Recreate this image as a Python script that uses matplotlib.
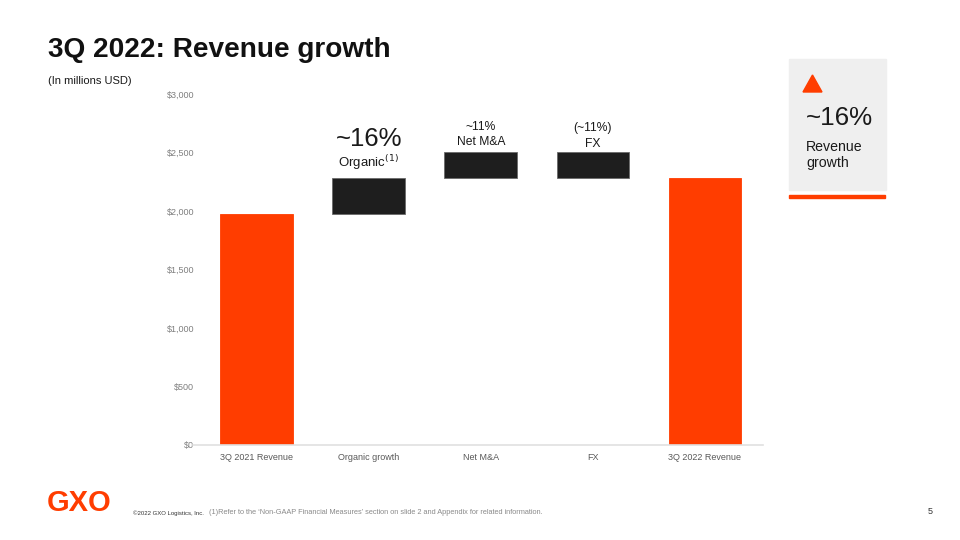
import matplotlib.pyplot as plt
from matplotlib.patches import Rectangle, Polygon
import numpy as np

plt.rcParams['font.family'] = ['Liberation Sans', 'DejaVu Sans']

categories = ['3Q 2021 Revenue', 'Organic growth', 'Net M&A', 'FX', '3Q 2022 Revenue']
changes = [1970, 315, 220, -220, 2285]   # first and last are totals
is_total = [True, False, False, False, True]
pct_labels = ['', '~16%', '~11%', '(~11%)', '']
name_labels = ['', 'Organic$^{(1)}$', 'Net M&A', 'FX', '']
yticks = [0, 500, 1000, 1500, 2000, 2500, 3000]

ORANGE = '#FF3D00'
DARK = '#1E1E1E'
GRAY_TXT = '#7F7F7F'

# waterfall bottoms/heights
bottoms, heights = [], []
running = 0
for v, tot in zip(changes, is_total):
    if tot:
        bottoms.append(0)
        heights.append(v)
        running = v
    else:
        lo = min(running, running + v)
        bottoms.append(lo)
        heights.append(abs(v))
        running += v

fig = plt.figure(figsize=(9.6, 5.4), dpi=100)
ax = fig.add_axes([0.201, 0.176, 0.594, 0.650])

x = np.arange(len(categories))
colors = [ORANGE if t else DARK for t in is_total]
edges = [ORANGE if t else '#6a6a6a' for t in is_total]
ax.bar(x, heights, bottom=bottoms, width=0.65, color=colors, edgecolor=edges, linewidth=0.6)

ax.set_xlim(-0.57, 4.52)
ax.set_ylim(0, 3000)
ax.set_yticks(yticks)
ax.set_yticklabels(['${:,}'.format(t) for t in yticks], color=GRAY_TXT, fontsize=6.5)
ax.set_xticks(x)
ax.set_xticklabels(categories, color='#595959', fontsize=6.5)
ax.tick_params(length=0, pad=6)
ax.tick_params(axis='y', pad=-1)
for s in ['top', 'right', 'left']:
    ax.spines[s].set_visible(False)
ax.spines['bottom'].set_color('#E0E0E0')
ax.spines['bottom'].set_linewidth(1.2)

# labels above the delta bars (offsets in points, label centres)
name_off = {1: 11, 2: 7.2, 3: 5.8}
pct_off = {1: 28, 2: 18.2, 3: 17}
for i in range(1, 4):
    top = bottoms[i] + heights[i]
    big = (i == 1)
    ax.annotate(pct_labels[i], (x[i], top), xytext=(0, pct_off[i]), textcoords='offset points',
                ha='center', va='center', fontsize=18.5 if big else 8.7, color='#1a1a1a')
    ax.annotate(name_labels[i], (x[i], top), xytext=(0, name_off[i]), textcoords='offset points',
                ha='center', va='center', fontsize=9.5 if big else 8.7, color='#1a1a1a')

# title block
fig.text(48 / 960, 1 - 50 / 540, '3Q 2022: Revenue growth', fontsize=20.2, fontweight='bold',
         va='center', ha='left', color='#111111')
fig.text(48 / 960, 1 - 81 / 540, '(In millions USD)', fontsize=8, va='center', ha='left', color='#1a1a1a')

# right-hand callout box
fig.patches.append(Rectangle((789 / 960, 1 - 190 / 540), 97 / 960, 131 / 540,
                             transform=fig.transFigure, color='#EFEFEF', zorder=0))
fig.patches.append(Rectangle((789 / 960, 1 - 198 / 540), 96 / 960, 3 / 540,
                             transform=fig.transFigure, color=ORANGE, zorder=1))
fig.patches.append(Polygon([(803 / 960, 1 - 92 / 540), (822 / 960, 1 - 92 / 540),
                            (812.5 / 960, 1 - 75 / 540)], closed=True,
                           transform=fig.transFigure, color=ORANGE, zorder=1))
fig.text(806 / 960, 1 - 118 / 540, '~16%', fontsize=18.7, va='center', ha='left', color='#1a1a1a')
fig.text(806 / 960, 1 - 155 / 540, 'Revenue\ngrowth', fontsize=10.2, va='center', ha='left',
         color='#1a1a1a', linespacing=1.25)

# footer
fig.text(47 / 960, 1 - 503 / 540, 'GXO', fontsize=21, fontweight='bold', color=ORANGE,
         va='center', ha='left')
fig.text(133 / 960, 1 - 513 / 540, '\u00a92022 GXO Logistics, Inc.', fontsize=4.3, color='#333333',
         va='center', ha='left')
fig.text(209 / 960, 1 - 513 / 540,
         "(1)Refer to the \u2018Non-GAAP Financial Measures\u2019 section on slide 2 and Appendix for related information.",
         fontsize=5.3, color='#8a8a8a', va='center', ha='left')
fig.text(933 / 960, 1 - 512 / 540, '5', fontsize=6.5, color='#333333', va='center', ha='right')

fig.savefig('out.png', dpi=100)
